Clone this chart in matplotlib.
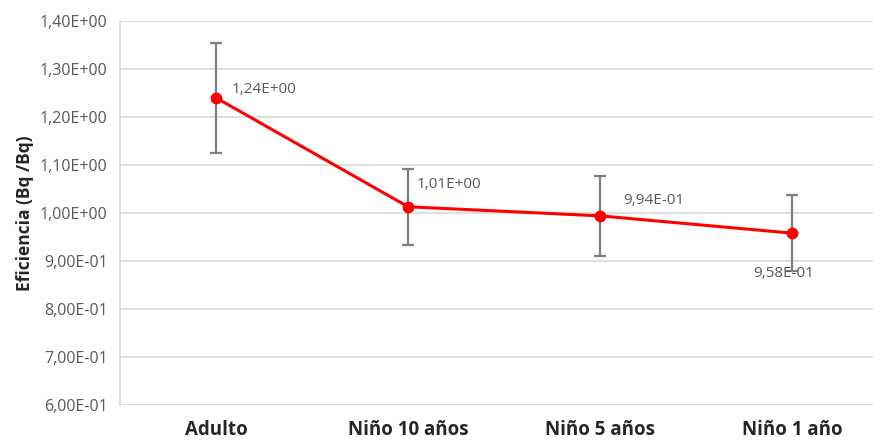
import matplotlib
matplotlib.use("Agg")
import matplotlib.pyplot as plt
from matplotlib.ticker import FuncFormatter

categories = ["Adulto", "Niño 10 años", "Niño 5 años", "Niño 1 año"]
values = [1.24, 1.013, 0.994, 0.958]
errors = [0.114, 0.079, 0.083, 0.079]
labels = ["1,24E+00", "1,01E+00", "9,94E-01", "9,58E-01"]
label_offsets = [(11.5, 6), (6, 16), (16.5, 11), (-28, -29)]

plt.rcParams['font.family'] = ['Open Sans', 'DejaVu Sans']

fig = plt.figure(figsize=(8.73, 4.41), dpi=100)
ax = fig.add_axes([120/873, 1-405/441, 1-120/873, (405-21)/441])

x = list(range(len(categories)))
ax.errorbar(x, values, yerr=errors, fmt='none', ecolor='#7f7f7f', elinewidth=1.6,
            capsize=4, capthick=1.6, zorder=2)
ax.plot(x, values, color='#ff0000', lw=2.2, marker='o', ms=7.5, zorder=3)

for xi, v, lab, off in zip(x, values, labels, label_offsets):
    ax.annotate(lab, (xi, v), xytext=off, textcoords='offset points',
                fontsize=11, color='#595959', ha='left', va='center', zorder=4)

ax.set_ylim(0.6, 1.4)
ax.set_xlim(-0.5, 3.42)
ax.set_yticks([0.6 + 0.1*i for i in range(9)])
ax.yaxis.set_major_formatter(FuncFormatter(
    lambda v, p: ("%.2E" % v).replace('.', ',')))
ax.set_xticks(x)
ax.set_xticklabels(categories, fontsize=13.5, fontweight='bold', color='#262626')
ax.tick_params(axis='y', labelsize=11.5, colors='#595959', length=0, pad=9)
ax.tick_params(axis='x', length=0, pad=11)
ax.grid(axis='y', color='#d9d9d9', lw=1.2)
ax.set_axisbelow(True)
for s in ['top', 'right', 'bottom']:
    ax.spines[s].set_visible(False)
ax.spines['left'].set_color('#d9d9d9')
ax.spines['left'].set_linewidth(1.2)
ax.set_ylabel("Eficiencia (Bq /Bq)", fontsize=12.5, fontweight='bold', color='#262626', labelpad=4)

fig.savefig("out.png", dpi=100)
